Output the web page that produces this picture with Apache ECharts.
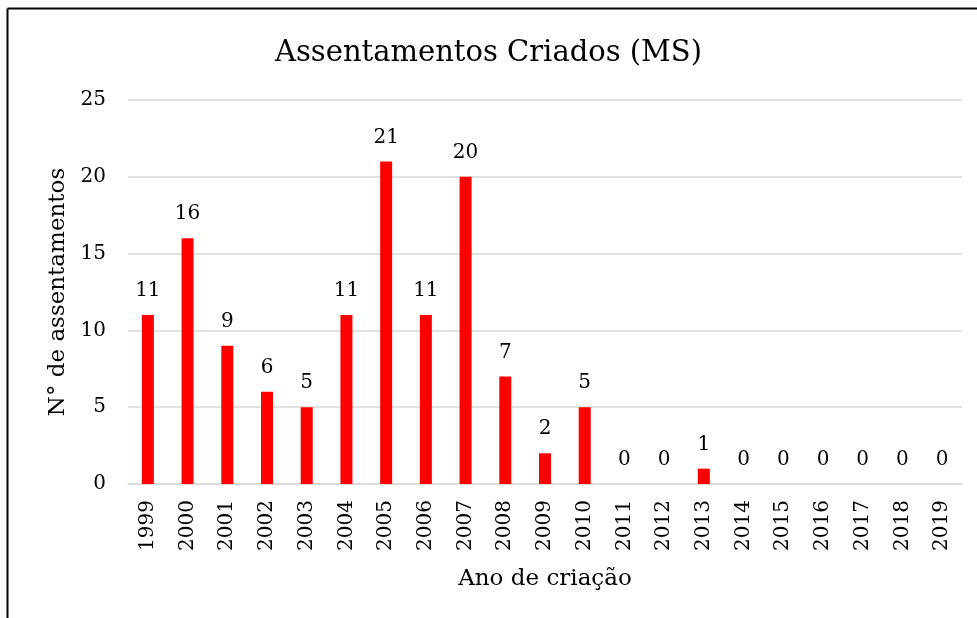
<!DOCTYPE html>
<html>
<head>
<meta charset="utf-8">
<script src="https://cdn.jsdelivr.net/npm/echarts@6/dist/echarts.min.js"></script>
<style>
html,body{margin:0;padding:0;background:#fff;}
#chart{width:977px;height:618px;}
</style>
</head>
<body>
<div id="chart"></div>
<script>
const years = ['1999','2000','2001','2002','2003','2004','2005','2006','2007','2008','2009','2010','2011','2012','2013','2014','2015','2016','2017','2018','2019'];
const values = [11,16,9,6,5,11,21,11,20,7,2,5,0,0,1,0,0,0,0,0,0];
const yTicks = [0,5,10,15,20,25];

const FONT = 'DejaVu Serif';
const chart = echarts.init(document.getElementById('chart'));
chart.setOption({
  backgroundColor: '#fff',
  animation: false,
  title: {
    text: 'Assentamentos Criados (MS)',
    left: 'center',
    top: 34,
    textStyle: {fontFamily: FONT, fontSize: 29, fontWeight: 'normal', color: '#000'}
  },
  graphic: [
    {type: 'line', shape: {x1: 7.5, y1: 8.5, x2: 977, y2: 8.5}, style: {stroke: '#000', lineWidth: 2}},
    {type: 'line', shape: {x1: 7.5, y1: 8.5, x2: 7.5, y2: 618}, style: {stroke: '#000', lineWidth: 2}}
  ],
  grid: {left: 128, right: 15, top: 100, bottom: 134},
  xAxis: {
    type: 'category',
    data: years,
    name: 'Ano de criação',
    nameLocation: 'middle',
    nameGap: 84,
    nameTextStyle: {fontFamily: FONT, fontSize: 23, color: '#000'},
    axisLine: {lineStyle: {color: '#d9d9d9', width: 1.5}},
    axisTick: {show: false},
    axisLabel: {rotate: 90, fontFamily: FONT, fontSize: 20, color: '#000', margin: 16}
  },
  yAxis: {
    type: 'value',
    min: 0, max: 25, interval: 5,
    name: 'N° de assentamentos',
    nameLocation: 'middle',
    nameGap: 56,
    nameTextStyle: {fontFamily: FONT, fontSize: 23, color: '#000'},
    axisLine: {show: false},
    axisTick: {show: false},
    splitLine: {lineStyle: {color: '#d9d9d9', width: 1.5}},
    axisLabel: {fontFamily: FONT, fontSize: 20, color: '#000', margin: 22,
      formatter: v => yTicks.includes(v) ? String(v) : ''}
  },
  series: [{
    type: 'bar',
    data: values,
    barWidth: 12,
    itemStyle: {color: '#ff0000'},
    label: {show: true, position: 'top', distance: 14, fontFamily: FONT, fontSize: 20, color: '#000'}
  }]
});
</script>
</body>
</html>
